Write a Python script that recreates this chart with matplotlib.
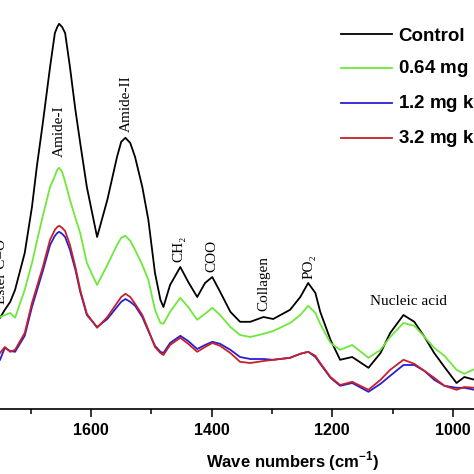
import matplotlib
matplotlib.use('Agg')
import matplotlib.pyplot as plt
from matplotlib.ticker import MultipleLocator

# wavenumber grid (cm-1) shared by all spectra
wavenumber = [1751, 1743, 1734, 1726, 1710, 1698, 1690, 1680, 1668, 1660, 1656, 1653, 1648,
              1643, 1635, 1626, 1618, 1607, 1590, 1573, 1557, 1550, 1543, 1535, 1527, 1515,
              1505, 1494, 1485, 1480, 1469, 1452, 1439, 1424, 1411, 1399, 1386, 1369, 1353,
              1336, 1314, 1298, 1270, 1253, 1240, 1228, 1220, 1203, 1187, 1167, 1140, 1120,
              1104, 1082, 1064, 1047, 1031, 1014, 994, 981, 964]

control = [0.228, 0.248, 0.268, 0.298, 0.390, 0.505, 0.605, 0.715, 0.855, 0.940, 0.955, 0.963,
           0.955, 0.940, 0.855, 0.748, 0.665, 0.555, 0.430, 0.523, 0.630, 0.668, 0.678, 0.665,
           0.630, 0.555, 0.473, 0.340, 0.273, 0.255, 0.310, 0.355, 0.318, 0.280, 0.315, 0.330,
           0.293, 0.243, 0.218, 0.218, 0.230, 0.225, 0.248, 0.280, 0.315, 0.290, 0.243, 0.173,
           0.123, 0.130, 0.103, 0.140, 0.190, 0.235, 0.218, 0.180, 0.140, 0.105, 0.065, 0.080,
           0.073]

dose_064 = [0.230, 0.235, 0.240, 0.228, 0.298, 0.365, 0.418, 0.483, 0.555, 0.583, 0.598, 0.603,
            0.593, 0.568, 0.523, 0.478, 0.440, 0.365, 0.310, 0.360, 0.410, 0.428, 0.433, 0.420,
            0.398, 0.360, 0.323, 0.248, 0.215, 0.213, 0.243, 0.278, 0.255, 0.223, 0.238, 0.253,
            0.235, 0.205, 0.185, 0.180, 0.188, 0.195, 0.215, 0.235, 0.258, 0.240, 0.213, 0.165,
            0.148, 0.160, 0.128, 0.148, 0.180, 0.215, 0.208, 0.180, 0.153, 0.133, 0.098, 0.088,
            0.100]

dose_12 = [0.123, 0.153, 0.145, 0.143, 0.183, 0.255, 0.295, 0.345, 0.410, 0.433, 0.440, 0.443,
           0.438, 0.430, 0.398, 0.348, 0.293, 0.235, 0.205, 0.225, 0.255, 0.268, 0.275, 0.268,
           0.258, 0.230, 0.195, 0.158, 0.143, 0.140, 0.165, 0.183, 0.170, 0.150, 0.160, 0.168,
           0.163, 0.148, 0.130, 0.125, 0.125, 0.123, 0.128, 0.138, 0.143, 0.130, 0.113, 0.078,
           0.058, 0.065, 0.043, 0.063, 0.083, 0.110, 0.110, 0.095, 0.073, 0.058, 0.053, 0.053,
           0.048]

dose_32 = [0.140, 0.155, 0.143, 0.148, 0.190, 0.265, 0.305, 0.355, 0.423, 0.448, 0.455, 0.458,
           0.453, 0.445, 0.410, 0.355, 0.298, 0.238, 0.203, 0.230, 0.265, 0.280, 0.288, 0.280,
           0.263, 0.235, 0.198, 0.155, 0.140, 0.135, 0.160, 0.178, 0.163, 0.143, 0.155, 0.165,
           0.158, 0.140, 0.118, 0.115, 0.120, 0.123, 0.128, 0.138, 0.143, 0.133, 0.115, 0.080,
           0.060, 0.068, 0.048, 0.073, 0.098, 0.123, 0.113, 0.095, 0.078, 0.058, 0.048, 0.055,
           0.053]

series_labels = ['Control', '0.64 mg kg$^{\\mathbf{-1}}$', '1.2 mg kg$^{\\mathbf{-1}}$',
                 '3.2 mg kg$^{\\mathbf{-1}}$']
series_colors = ['black', '#6ee83a', '#2a1fd0', '#c8202a']

# band assignments: (label, wavenumber, height, rotation)
bands = [('Ester C=O', 1748, 0.343, 90),
         ('Amide-I', 1653, 0.695, 90),
         ('Amide-II', 1542, 0.764, 90),
         ('CH\u2082', 1454, 0.400, 90),
         ('COO', 1399, 0.383, 90),
         ('Collagen', 1313, 0.313, 90),
         ('PO\u2082', 1238, 0.355, 90),
         ('Nucleic acid', 1073, 0.268, 0)]

plt.rcParams['mathtext.fontset'] = 'custom'
plt.rcParams['mathtext.rm'] = 'Liberation Sans'
plt.rcParams['mathtext.bf'] = 'Liberation Sans:bold'

fig = plt.figure(figsize=(4.74, 4.74), dpi=100)
ax = fig.add_axes([0.0, 65 / 474, 1.0, 409 / 474])

for vals, lab, col in zip([control, dose_064, dose_12, dose_32], series_labels, series_colors):
    ax.plot(wavenumber, vals, color=col, linewidth=1.3, label=lab)

for text, wn, h, rot in bands:
    ax.text(wn, h, text, rotation=rot, ha='center', va='center', fontsize=11,
            family=['Liberation Serif', 'DejaVu Serif'])

ax.set_xlim(1751, 965)
ax.set_ylim(0, 1.0225)
for side in ['left', 'right', 'top']:
    ax.spines[side].set_visible(False)
ax.spines['bottom'].set_linewidth(1.2)
ax.set_yticks([])
ax.xaxis.set_major_locator(MultipleLocator(200))
ax.xaxis.set_minor_locator(MultipleLocator(100))
ax.tick_params(axis='x', which='major', direction='out', length=6, width=1.1, pad=4)
ax.tick_params(axis='x', which='minor', direction='out', length=3.5, width=1.1)
for lbl in ax.get_xticklabels():
    lbl.set_fontfamily('Liberation Sans')
    lbl.set_fontweight('bold')
    lbl.set_fontsize(11.5)

fig.text(293 / 474, 7 / 474, 'Wave numbers (cm$^{\\mathbf{-1}}$)', ha='center', va='baseline',
         fontsize=12, fontweight='bold', family='Liberation Sans')

ax.legend(loc='upper left', bbox_to_anchor=(324 / 474, 1 - 11 / 474),
          bbox_transform=fig.transFigure, frameon=False, handlelength=2.75,
          handletextpad=0.3, labelspacing=0.55,
          prop={'family': 'Liberation Sans', 'weight': 'bold', 'size': 13.5})

fig.savefig('out.png', dpi=100)
